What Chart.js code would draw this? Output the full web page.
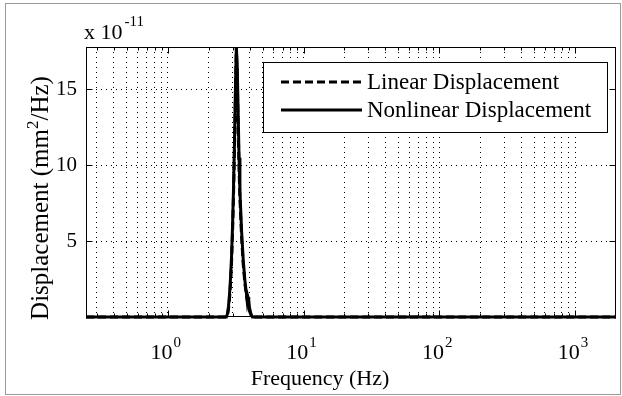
<!DOCTYPE html>
<html><head><meta charset="utf-8">
<script src="https://cdn.jsdelivr.net/npm/chart.js@4/dist/chart.umd.min.js"></script>
<style>html,body{margin:0;padding:0;background:#fff}#wrap{position:relative;width:622px;height:396px}</style>
</head><body><div id="wrap"><canvas id="c" width="622" height="396"></canvas></div>
<script>
// Frequency samples (Hz)
const frequencyHz = [0.25, 1, 2, 2.7, 2.75, 2.8, 2.85, 2.9, 2.95, 3.0, 3.05, 3.1, 3.15, 3.2, 3.25, 3.3, 3.35, 3.4, 3.5, 3.6, 3.7, 3.8, 3.85, 3.9, 3.95, 4.0, 4.1, 4.2, 5, 10, 100, 1000, 2000];
// Displacement PSD, in units of 1e-11 mm^2/Hz
const linearDisplacement = [0, 0, 0, 0, 0.1, 0.5, 1.2, 2.2, 3.6, 5.6, 8, 11, 14.5, 17.8, 15.5, 12.5, 9.8, 7.8, 5.2, 3.4, 2.2, 1.4, 1.1, 0.8, 0.6, 0.4, 0.15, 0, 0, 0, 0, 0, 0];
const nonlinearDisplacement = [0, 0, 0, 0, 0.2, 0.7, 1.5, 2.6, 4.0, 6.0, 8.5, 11.5, 15, 17.8, 16.5, 13.5, 10.5, 8.3, 5.6, 3.7, 2.4, 1.5, 1.0, 1.3, 1.1, 0.6, 0.2, 0, 0, 0, 0, 0, 0];
const seriesNames = ['Linear Displacement', 'Nonlinear Displacement'];
const xMajorDecades = [0, 1, 2, 3];
const xGridDecades = [-1, 0, 1, 2, 3];
const xGridMultipliers = [1, 2, 3, 4, 5, 6, 7, 8, 9];
const yTickValues = [5, 10, 15];
const yTickLabels = ['5', '10', '15'];
const xRange = [0.25, 2000];
const yRange = [0, 17.8];

const SERIF = '"Liberation Serif", "Times New Roman", serif';

const xGridValues = [];
xGridDecades.forEach(d => xGridMultipliers.forEach(m => {
  const v = m * Math.pow(10, d);
  if (v > xRange[0] && v < xRange[1]) xGridValues.push(v);
}));

function toPoints(ys) { return frequencyHz.map((f, i) => ({x: f, y: ys[i]})); }

function drawSup(ctx, parts, x, y, align) {
  let w = 0;
  parts.forEach(p => { ctx.font = p.size + 'px ' + SERIF; p.w = ctx.measureText(p.t).width + (p.gap || 0); w += p.w; });
  let cx = align === 'center' ? x - w / 2 : (align === 'right' ? x - w : x);
  parts.forEach(p => { ctx.font = p.size + 'px ' + SERIF; ctx.textAlign = 'left'; ctx.fillText(p.t, cx + (p.gap || 0), y + (p.dy || 0)); cx += p.w; });
}

const decor = {
  id: 'decor',
  afterDraw(chart) {
    const ctx = chart.ctx, a = chart.chartArea;
    const xs = chart.scales.x, ys = chart.scales.y;
    ctx.save();
    ctx.fillStyle = '#000';
    ctx.strokeStyle = '#000';
    ctx.lineWidth = 1;
    const L = Math.round(a.left) + 0.5, R = Math.round(a.right) - 0.5, T = Math.round(a.top) + 0.5, B = Math.round(a.bottom) - 0.5;
    ctx.strokeRect(L, T, R - L, B - T);
    ctx.beginPath();
    xGridValues.forEach(v => {
      const px = Math.round(xs.getPixelForValue(v)) + 0.5;
      const major = xMajorDecades.some(d => Math.abs(Math.pow(10, d) - v) < 1e-9);
      const len = major ? 6 : 3;
      ctx.moveTo(px, B); ctx.lineTo(px, B - len);
      ctx.moveTo(px, T); ctx.lineTo(px, T + len);
    });
    yTickValues.forEach(v => {
      const py = Math.round(ys.getPixelForValue(v)) + 0.5;
      ctx.moveTo(L, py); ctx.lineTo(L + 6, py);
      ctx.moveTo(R, py); ctx.lineTo(R - 6, py);
    });
    ctx.stroke();
    ctx.textBaseline = 'alphabetic';
    xMajorDecades.forEach(d => {
      const px = xs.getPixelForValue(Math.pow(10, d));
      drawSup(ctx, [{t: '10', size: 22}, {t: String(d), size: 15, dy: -12, gap: 1}], px - 2, 359, 'center');
    });
    drawSup(ctx, [{t: 'x 10', size: 22}, {t: '-11', size: 15, dy: -13, gap: 2}], 84, 39, 'left');
    drawSup(ctx, [{t: 'Frequency (Hz)', size: 22}], 320, 385, 'center');
    ctx.save();
    ctx.translate(48, 198);
    ctx.rotate(-Math.PI / 2);
    drawSup(ctx, [{t: 'Displacement (mm', size: 25}, {t: '2', size: 17, dy: -10}, {t: '/Hz)', size: 25}], 0, 0, 'center');
    ctx.restore();
    // legend
    const lx = 263.5, ly = 62.5, lw = 344, lh = 70;
    ctx.fillStyle = '#fff';
    ctx.fillRect(lx, ly, lw, lh);
    ctx.strokeStyle = '#000';
    ctx.lineWidth = 1;
    ctx.strokeRect(lx, ly, lw, lh);
    const rows = [82, 110];
    chart.data.datasets.forEach((ds, i) => {
      ctx.save();
      ctx.strokeStyle = ds.borderColor;
      ctx.lineWidth = ds.borderWidth;
      ctx.setLineDash(ds.borderDash || []);
      ctx.beginPath();
      ctx.moveTo(281, rows[i]); ctx.lineTo(362, rows[i]);
      ctx.stroke();
      ctx.restore();
      ctx.fillStyle = '#000';
      ctx.textBaseline = 'middle';
      drawSup(ctx, [{t: ds.label, size: 23}], 367, rows[i] + 1, 'left');
    });
    ctx.strokeStyle = '#9a9a9a';
    ctx.lineWidth = 1;
    ctx.strokeRect(5.5, 3.5, 615, 391);
    ctx.restore();
  }
};

const lineClip = {left: 0, top: 0, right: 0, bottom: 3};

new Chart(document.getElementById('c'), {
  type: 'scatter',
  data: {
    datasets: [
      {label: seriesNames[0], data: toPoints(linearDisplacement), showLine: true, borderColor: '#000', backgroundColor: '#000', borderWidth: 3, borderDash: [8, 4], pointRadius: 0, tension: 0, clip: lineClip},
      {label: seriesNames[1], data: toPoints(nonlinearDisplacement), showLine: true, borderColor: '#000', backgroundColor: '#000', borderWidth: 3, pointRadius: 0, tension: 0, clip: lineClip}
    ]
  },
  options: {
    responsive: false,
    animation: false,
    devicePixelRatio: 1,
    layout: {padding: {left: 0, top: 47, right: 6, bottom: 0}},
    plugins: {legend: {display: false}, tooltip: {enabled: false}, title: {display: false}},
    scales: {
      x: {
        type: 'logarithmic', min: xRange[0], max: xRange[1],
        afterBuildTicks: s => { s.ticks = xGridValues.map(v => ({value: v})); },
        afterFit: s => { s.height = 79; },
        ticks: {display: false, autoSkip: false},
        grid: {color: '#000', lineWidth: 1, drawTicks: false},
        border: {display: false, dash: [1, 4]}
      },
      y: {
        min: yRange[0], max: yRange[1],
        afterBuildTicks: s => { s.ticks = yTickValues.map(v => ({value: v})); },
        afterFit: s => { s.width = 86; },
        ticks: {color: '#000', font: {family: SERIF, size: 21}, padding: 9, callback: (v) => yTickLabels[yTickValues.indexOf(v)]},
        grid: {color: '#000', lineWidth: 1, drawTicks: false},
        border: {display: false, dash: [1, 4]}
      }
    }
  },
  plugins: [decor]
});
</script>
</body></html>
